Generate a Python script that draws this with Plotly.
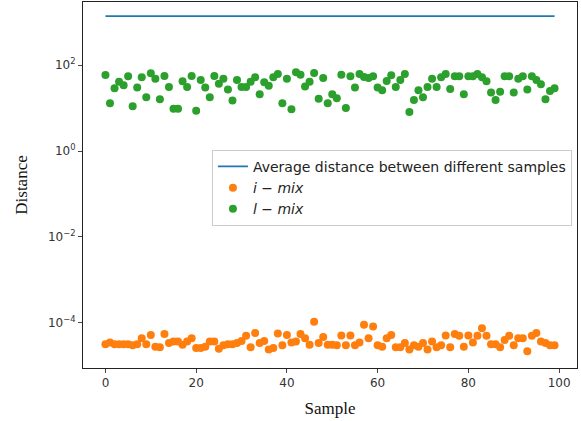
import plotly.graph_objects as go

samples = list(range(100))

avg_distance = [1380] * 100

l_mix = [59, 13, 29, 41, 34, 55, 11, 30, 52, 18,
         65, 48, 16, 56, 31, 9.6, 9.6, 42, 31, 56,
         8.7, 45, 30, 18, 56, 37, 48, 27, 15, 45,
         31, 31, 41, 52, 21, 40, 33, 52, 62, 13,
         48, 9.4, 68, 60, 32, 41, 66, 16.5, 50, 13,
         21, 17, 60, 10, 55, 30, 62, 53, 50, 55,
         30, 26, 43, 58, 31, 45, 62, 8.1, 15.4, 26,
         18, 31, 48, 31, 52, 62, 28, 55, 55, 21,
         55, 55, 62, 52, 42, 23, 15.4, 24, 55, 55,
         23, 48, 55, 27, 55, 45, 36, 16, 25, 29]

i_mix = [3.2e-5, 3.5e-5, 3.2e-5, 3.2e-5, 3.2e-5, 3.2e-5, 3.0e-5, 3.2e-5, 4.4e-5, 3.2e-5,
         5.2e-5, 2.8e-5, 2.7e-5, 5.5e-5, 3.4e-5, 3.7e-5, 3.7e-5, 3.1e-5, 3.7e-5, 4.4e-5,
         2.6e-5, 2.6e-5, 2.8e-5, 3.7e-5, 3.7e-5, 2.5e-5, 3.0e-5, 3.2e-5, 3.2e-5, 3.4e-5,
         3.8e-5, 5.0e-5, 2.7e-5, 5.8e-5, 3.4e-5, 3.8e-5, 2.4e-5, 2.6e-5, 5.7e-5, 3.0e-5,
         5.2e-5, 3.5e-5, 3.7e-5, 5.5e-5, 4.4e-5, 3.1e-5, 1.07e-4, 3.4e-5, 4.7e-5, 3.1e-5,
         3.1e-5, 3.0e-5, 5.1e-5, 3.0e-5, 5.1e-5, 3.0e-5, 3.5e-5, 9.1e-5, 4.4e-5, 8.2e-5,
         3.0e-5, 2.8e-5, 4.4e-5, 5.2e-5, 2.7e-5, 2.7e-5, 3.4e-5, 2.4e-5, 3.0e-5, 2.8e-5,
         3.4e-5, 2.4e-5, 3.7e-5, 2.7e-5, 3.0e-5, 5.1e-5, 2.7e-5, 5.5e-5, 5.0e-5, 2.8e-5,
         5.1e-5, 3.5e-5, 5.0e-5, 7.5e-5, 5.0e-5, 3.2e-5, 3.2e-5, 2.7e-5, 4.0e-5, 5.0e-5,
         3.0e-5, 4.4e-5, 4.4e-5, 2.2e-5, 5.0e-5, 5.8e-5, 3.7e-5, 3.4e-5, 3.0e-5, 3.0e-5]

y_ticks = [1e-4, 1e-2, 1, 100]
y_tick_text = ["10<sup>\u22124</sup>", "10<sup>\u22122</sup>", "10<sup>0</sup>", "10<sup>2</sup>"]
x_ticks = [0, 20, 40, 60, 80, 100]

fig = go.Figure()
fig.add_trace(go.Scatter(x=samples, y=avg_distance, mode="lines",
                         line=dict(color="#1f77b4", width=1.8),
                         name="Average distance between different samples"))
fig.add_trace(go.Scatter(x=samples, y=i_mix, mode="markers",
                         marker=dict(color="#ff7f0e", size=8),
                         name="<i>i \u2212 mix</i>"))
fig.add_trace(go.Scatter(x=samples, y=l_mix, mode="markers",
                         marker=dict(color="#2ca02c", size=8),
                         name="<i>l \u2212 mix</i>"))

fig.update_layout(
    width=581, height=421,
    margin=dict(l=83, r=4, t=2, b=53, autoexpand=False),
    plot_bgcolor="white", paper_bgcolor="white",
    font=dict(family="DejaVu Sans", size=12, color="#333333"),
    legend=dict(x=0.261, y=0.596, xanchor="left", yanchor="top",
                bgcolor="rgba(255,255,255,0.8)", bordercolor="#cccccc", borderwidth=1,
                font=dict(family="DejaVu Sans", size=14, color="#222222"),
                tracegroupgap=2),
)
fig.update_xaxes(range=[-4.95, 103.95], tickvals=x_ticks, ticks="outside", ticklen=4,
                 showline=True, linecolor="#222222", linewidth=1, mirror=True,
                 showgrid=False, zeroline=False,
                 title=dict(text="Sample", font=dict(family="Liberation Serif", size=17, color="#111111"),
                            standoff=12))
fig.update_yaxes(type="log", range=[-5.05, 3.47], tickvals=y_ticks, ticktext=y_tick_text,
                 ticks="outside", ticklen=4,
                 showline=True, linecolor="#222222", linewidth=1, mirror=True,
                 showgrid=False, zeroline=False,
                 title=dict(text="Distance", font=dict(family="Liberation Serif", size=17, color="#111111"),
                            standoff=16))

fig.write_html("out.html", config={"displayModeBar": False},
               post_script="document.body.style.margin='0';")
